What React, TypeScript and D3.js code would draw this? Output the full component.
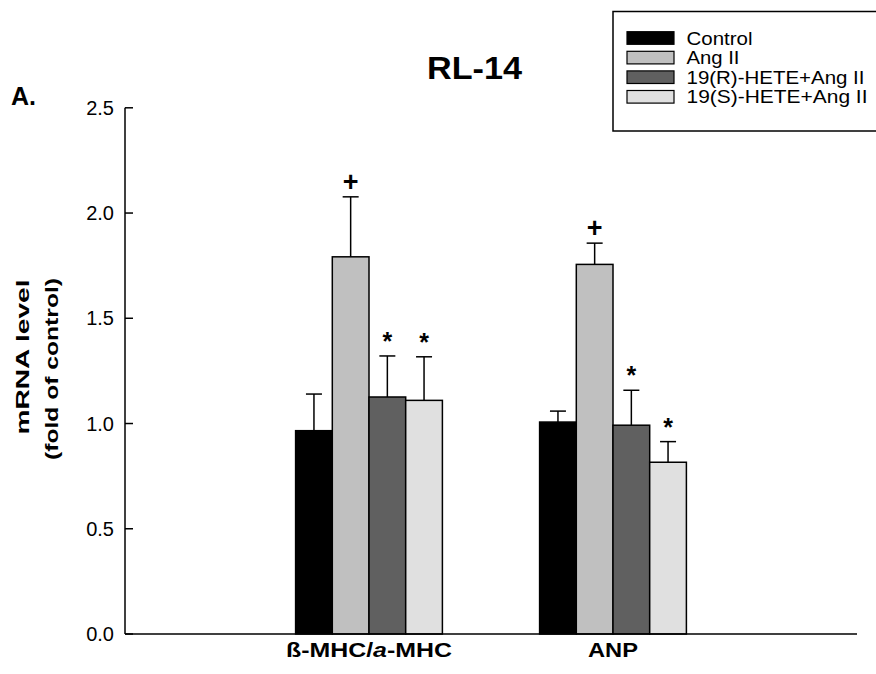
import React from "react";
import * as d3 from "d3";

const categories = ["ß-MHC/a-MHC", "ANP"];
const seriesNames = ["Control", "Ang II", "19(R)-HETE+Ang II", "19(S)-HETE+Ang II"];
const seriesColors = ["#000000", "#c0c0c0", "#606060", "#e0e0e0"];
// values[category][series]
const meanValues = [
  [0.966, 1.792, 1.126, 1.11],
  [1.007, 1.756, 0.992, 0.816],
];
const errorValues = [
  [0.174, 0.285, 0.195, 0.207],
  [0.052, 0.101, 0.166, 0.098],
];
const markers = [
  ["", "+", "*", "*"],
  ["", "+", "*", "*"],
];
const yTicks = [0.0, 0.5, 1.0, 1.5, 2.0, 2.5];

const W = 876;
const H = 674;
const FONT = "'Liberation Sans', Arial, sans-serif";

export default function App() {
  const x = d3.scaleLinear().domain([0, 3]).range([125, 857]);
  const y = d3.scaleLinear().domain([0, 2.5]).range([634, 107.8]);
  const bw = x(0.1504) - x(0);
  const nS = seriesNames.length;

  return (
    <svg
      width={W}
      height={H}
      style={{ position: "absolute", left: 0, top: 0, background: "#fff" }}
      fontFamily={FONT}
    >
      <rect x={0} y={0} width={W} height={H} fill="#fff" />
      {/* Panel label and title */}
      <text x={11} y={105} fontSize={25} fontWeight="bold">A.</text>
      <text x={427} y={79} fontSize={30.5} fontWeight="bold" textLength={95} lengthAdjust="spacingAndGlyphs">RL-14</text>

      {/* Y axis label */}
      <text transform="translate(28.5,357) rotate(-90)" textAnchor="middle" fontSize={19} fontWeight="bold" textLength={155} lengthAdjust="spacingAndGlyphs">mRNA level</text>
      <text transform="translate(57.5,369) rotate(-90)" textAnchor="middle" fontSize={19} fontWeight="bold" textLength={182} lengthAdjust="spacingAndGlyphs">(fold of control)</text>

      {/* Bars */}
      {categories.map((c, ci) => {
        const cx = x(ci + 1);
        const start = cx - (bw * nS) / 2;
        return (
          <g key={c}>
            {meanValues[ci].map((v, si) => {
              const bx = start + si * bw;
              const top = y(v);
              const eTop = y(v + errorValues[ci][si]);
              const mid = bx + bw / 2;
              const m = markers[ci][si];
              return (
                <g key={si}>
                  <line x1={mid} x2={mid} y1={top} y2={eTop} stroke="#000" strokeWidth={1.5} />
                  <line x1={mid - 8} x2={mid + 8} y1={eTop} y2={eTop} stroke="#000" strokeWidth={1.5} />
                  <rect x={bx} y={top} width={bw} height={y(0) - top} fill={seriesColors[si]} stroke="#000" strokeWidth={1.5} />
                  {m === "+" && (
                    <text x={mid} y={eTop - 6} textAnchor="middle" fontSize={27} fontWeight="bold">+</text>
                  )}
                  {m === "*" && (
                    <text x={mid} y={eTop - 6} textAnchor="middle" fontSize={25} fontWeight="bold">*</text>
                  )}
                </g>
              );
            })}
          </g>
        );
      })}

      {/* Axes */}
      <line x1={x(0)} x2={x(3)} y1={y(0)} y2={y(0)} stroke="#000" strokeWidth={1.5} />
      <line x1={x(0)} x2={x(0)} y1={y(0)} y2={y(2.5)} stroke="#000" strokeWidth={1.5} />
      {yTicks.map((t) => (
        <g key={t}>
          <line x1={x(0)} x2={x(0) + 8} y1={y(t)} y2={y(t)} stroke="#000" strokeWidth={1.5} />
          <text x={114} y={y(t) + 7} textAnchor="end" fontSize={20}>{t.toFixed(1)}</text>
        </g>
      ))}

      {/* Category labels */}
      <text x={x(1)} y={657} textAnchor="middle" fontSize={20} fontWeight="bold" textLength={166} lengthAdjust="spacingAndGlyphs">
        ß-MHC/<tspan fontStyle="italic">a</tspan>-MHC
      </text>
      <text x={x(2)} y={657} textAnchor="middle" fontSize={20} fontWeight="bold" textLength={50} lengthAdjust="spacingAndGlyphs">ANP</text>

      {/* Legend */}
      <rect x={613} y={11.5} width={280} height={119.5} fill="#fff" stroke="#000" strokeWidth={1.5} />
      {seriesNames.map((s, i) => {
        const cy = 38 + i * 19.6;
        const lens = [66, 53, 178, 181];
        return (
          <g key={s}>
            <rect x={627} y={cy - 6.3} width={47} height={12.6} fill={seriesColors[i]} stroke="#000" strokeWidth={1.2} />
            <text x={686.5} y={cy + 6.5} fontSize={18.5} textLength={lens[i]} lengthAdjust="spacingAndGlyphs">{s}</text>
          </g>
        );
      })}
    </svg>
  );
}
